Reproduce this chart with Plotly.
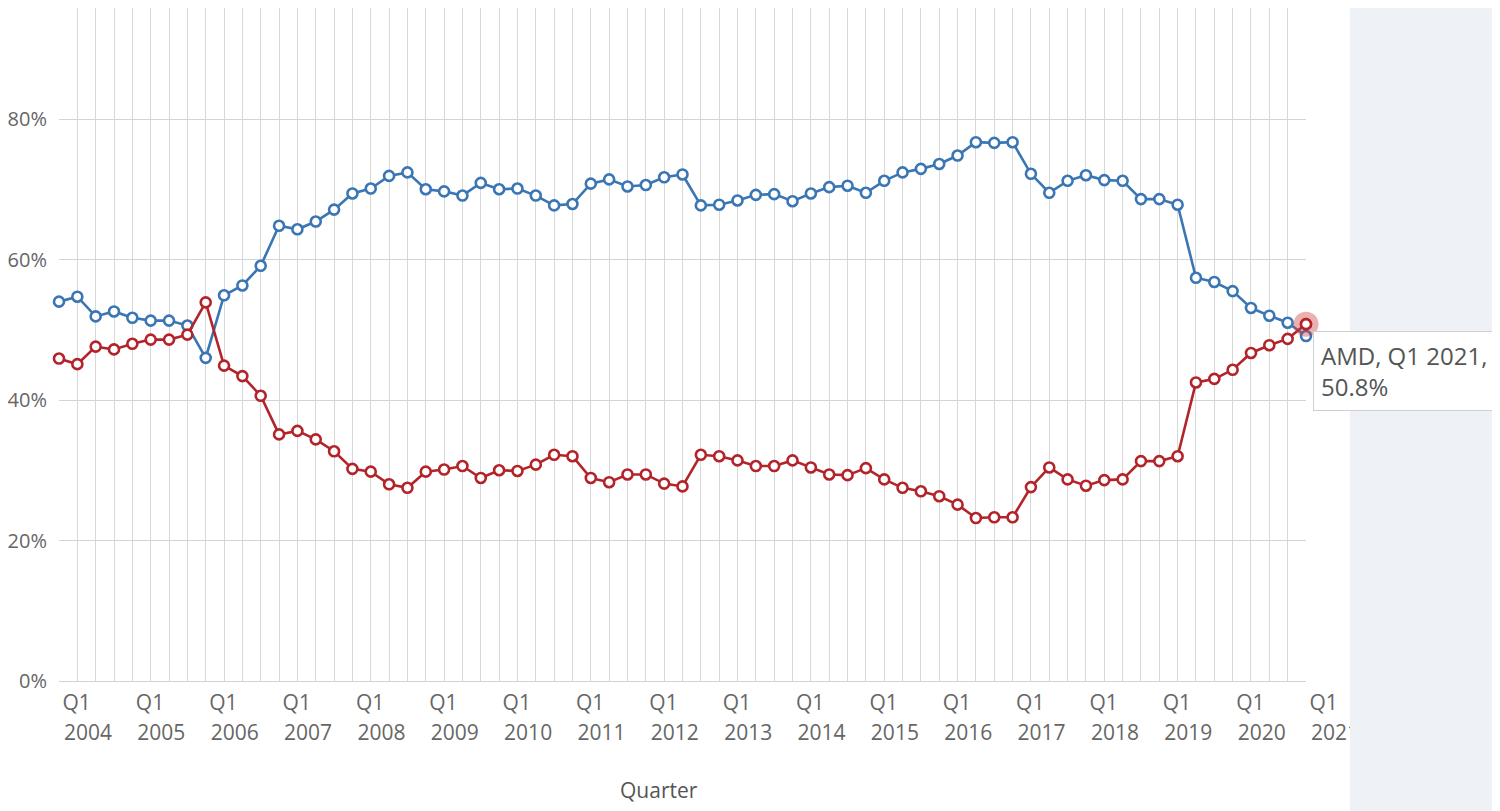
import plotly.graph_objects as go

years = list(range(2004, 2022))
quarters = [f"Q{q} {y}" for y in years for q in (1, 2, 3, 4)][:69]

intel = [
    54.0, 54.7, 51.9, 52.6,
    51.7, 51.3, 51.3, 50.6,
    46.0, 54.9, 56.3, 59.1,
    64.8, 64.3, 65.4, 67.1,
    69.4, 70.1, 71.9, 72.4,
    70.0, 69.7, 69.1, 70.9,
    70.0, 70.1, 69.1, 67.7,
    67.9, 70.8, 71.4, 70.4,
    70.6, 71.7, 72.1, 67.7,
    67.8, 68.4, 69.2, 69.3,
    68.3, 69.4, 70.3, 70.5,
    69.5, 71.2, 72.4, 72.9,
    73.6, 74.8, 76.7, 76.6,
    76.7, 72.2, 69.5, 71.2,
    72.0, 71.3, 71.2, 68.6,
    68.6, 67.8, 57.4, 56.8,
    55.5, 53.1, 52.0, 51.0,
    49.1,
]

amd = [
    45.9, 45.1, 47.6, 47.2,
    48.0, 48.6, 48.6, 49.3,
    53.9, 44.9, 43.4, 40.6,
    35.1, 35.6, 34.4, 32.7,
    30.2, 29.8, 28.0, 27.5,
    29.8, 30.1, 30.6, 28.9,
    30.0, 29.9, 30.8, 32.2,
    32.0, 28.9, 28.3, 29.4,
    29.4, 28.1, 27.7, 32.2,
    32.0, 31.4, 30.6, 30.6,
    31.4, 30.4, 29.4, 29.3,
    30.3, 28.7, 27.5, 27.0,
    26.3, 25.1, 23.2, 23.3,
    23.3, 27.6, 30.4, 28.7,
    27.8, 28.6, 28.7, 31.3,
    31.3, 32.0, 42.5, 43.0,
    44.3, 46.7, 47.8, 48.7,
    50.8,
]

y_ticks = [0, 20, 40, 60, 80]
y_ticktext = [f"{v}%" for v in y_ticks]
q_ticktext = ["Q1" if q.startswith("Q1") else "" for q in quarters]
year_tickvals = [q for q in quarters if q.startswith("Q1")]
year_ticktext = [q.split()[1] for q in year_tickvals]

BLUE = "#3a76b3"
RED = "#b3242a"
FONT = "Open Sans"

fig = go.Figure()
fig.add_trace(go.Scatter(
    x=quarters, y=intel, name="Intel", mode="lines+markers",
    line=dict(color=BLUE, width=2.6),
    marker=dict(symbol="circle", size=10, color="white", line=dict(color=BLUE, width=2.6)),
    cliponaxis=False,
))
fig.add_trace(go.Scatter(
    x=quarters, y=amd, name="AMD", mode="lines+markers",
    line=dict(color=RED, width=2.6),
    marker=dict(symbol="circle", size=10, color="white", line=dict(color=RED, width=2.6)),
    cliponaxis=False,
))
# hover halo on last AMD point (drawn on the overlaying year axis, same scale)
fig.add_trace(go.Scatter(
    x=[quarters[-1]], y=[amd[-1]], mode="markers", xaxis="x2",
    marker=dict(size=25, color="rgba(205,60,60,0.4)", line=dict(width=0)),
    cliponaxis=False, hoverinfo="skip",
))
fig.add_trace(go.Scatter(
    x=[quarters[-1]], y=[amd[-1]], mode="markers", xaxis="x2",
    marker=dict(symbol="circle", size=10, color="white", line=dict(color=RED, width=2.6)),
    cliponaxis=False, hoverinfo="skip",
))

# page is rendered with an 8px body offset; compensate
OFF = 8
W, H = 1500, 811
L = 57 - OFF
T = 8 - OFF
R = W - (1306 - OFF)
B = H - (681 - OFF)
pw = W - L - R
ph = H - T - B

def px_x(px):
    return (px - OFF - L) / pw

def px_y(py):
    return (H - B - (py - OFF)) / ph

fig.add_shape(type="rect", xref="paper", yref="paper",
              x0=px_x(1350), x1=px_x(1530), y0=px_y(840), y1=px_y(8),
              fillcolor="#eef2f6", line=dict(width=0), layer="above")

fig.add_annotation(
    xref="paper", yref="paper", x=px_x(1313), y=px_y(371),
    xanchor="left", yanchor="middle",
    text="AMD, Q1 2021,<br>50.8%", align="left", showarrow=False,
    font=dict(family=FONT, size=24, color="#555555"),
    bgcolor="white", bordercolor="#cfcfcf", borderwidth=1, borderpad=7,
    width=240,
)

fig.add_annotation(
    xref="paper", yref="paper", x=px_x(658), y=px_y(790),
    xanchor="center", yanchor="middle",
    text="Quarter", showarrow=False,
    font=dict(family=FONT, size=21, color="#555555"),
)

fig.update_layout(
    width=W, height=H,
    margin=dict(l=L, r=R, t=T, b=B),
    paper_bgcolor="white", plot_bgcolor="white",
    showlegend=False, hovermode=False,
    font=dict(family=FONT, size=20, color="#666666"),
    xaxis=dict(
        type="category", categoryorder="array", categoryarray=quarters,
        range=[0, len(quarters) - 1],
        tickmode="array", tickvals=quarters, ticktext=q_ticktext,
        ticklabelposition="outside right", ticklabelshift=3, ticklabelstandoff=3,
        showgrid=True, gridcolor="#d8d8d8", gridwidth=1,
        showline=True, linecolor="#d2d2d2", linewidth=1,
        ticks="", tickangle=0, zeroline=False,
        tickfont=dict(family=FONT, size=21, color="#666666"),
    ),
    xaxis2=dict(
        type="category", categoryorder="array", categoryarray=quarters,
        range=[0, len(quarters) - 1], overlaying="x", side="bottom",
        tickmode="array", tickvals=year_tickvals, ticktext=year_ticktext,
        ticklabelposition="outside", ticklabelshift=29, ticklabelstandoff=37,
        showgrid=False, showline=False, zeroline=False, ticks="", tickangle=0,
        tickfont=dict(family=FONT, size=21, color="#666666"),
    ),
    yaxis=dict(
        range=[0, 95.8], tickmode="array", tickvals=y_ticks, ticktext=y_ticktext,
        showgrid=True, gridcolor="#d4d4d4", gridwidth=1,
        zeroline=False, ticks="", ticklabelstandoff=11,
        tickfont=dict(family=FONT, size=20, color="#666666"),
    ),
)

fig.write_html("out.html")
